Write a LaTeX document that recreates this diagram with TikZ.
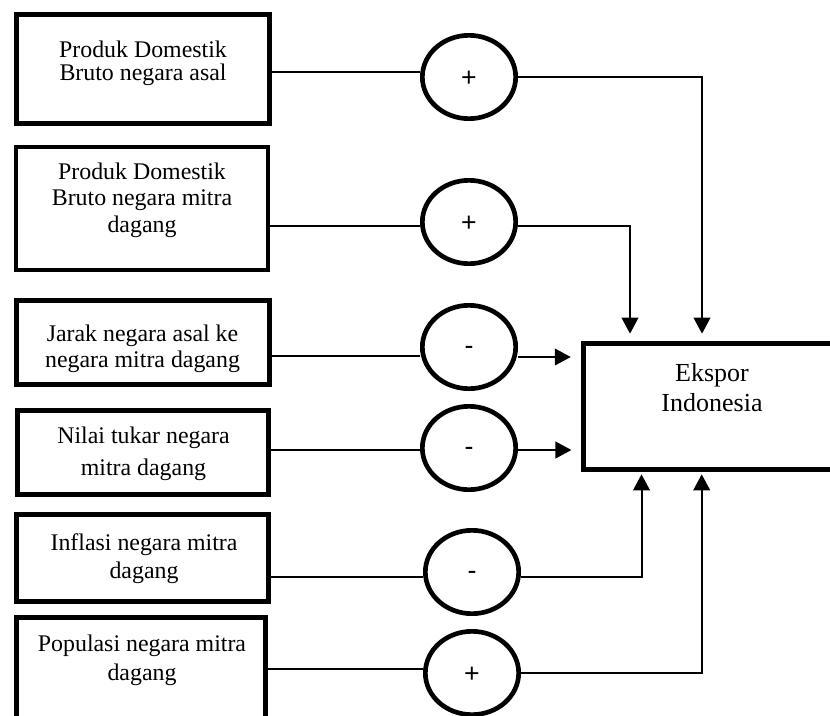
\documentclass[tikz,border=0pt]{standalone}
\usepackage{fontspec}
\setmainfont{Liberation Serif}
\newfontfamily\signfont{Liberation Sans}
\usetikzlibrary{arrows.meta,shapes.geometric}

\tikzset{every picture/.style={line width=0.75pt}}
\tikzset{
  varbox/.style={draw, line width=3.5pt, inner sep=0pt},
  signnode/.style={draw, ellipse, line width=3.5pt, inner sep=0pt, minimum width=70pt, minimum height=62.5pt, text depth=0pt, font=\signfont\fontsize{20pt}{24pt}\selectfont},
  plussign/.style={signnode, text height=14.2pt},
  minussign/.style={signnode, text height=10.8pt},
  vartext/.style={inner sep=0pt, align=center, font=\fontsize{17.9pt}{#1}\selectfont},
  vartext/.default=20pt,
  link/.style={line width=1.5pt},
  arrowlink/.style={-{Triangle[length=12pt,width=12.5pt]}},
}

\begin{document}
\begin{tikzpicture}[x=0.75pt,y=0.75pt,yscale=-1,xscale=1]
\useasboundingbox (0,0) rectangle (830,715);

%Shape: Rectangle [gdpAsal]
\node [varbox, minimum width=190pt, minimum height=82pt] (gdpAsal) at (143,69) {};
%Shape: Rectangle [gdpMitra]
\node [varbox, line width=3pt, minimum width=189pt, minimum height=92.25pt] (gdpMitra) at (142,208.5) {};
%Shape: Rectangle [jarak]
\node [varbox, minimum width=190pt, minimum height=63.25pt] (jarak) at (143,342.5) {};
%Shape: Rectangle [nilai]
\node [varbox, minimum width=188.5pt, minimum height=63.25pt] (nilai) at (143,452.5) {};
%Shape: Rectangle [inflasi]
\node [varbox, minimum width=189.2pt, minimum height=65.5pt] (inflasi) at (142.5,558) {};
%Shape: Rectangle [populasi]
\node [varbox, minimum width=187pt, minimum height=90pt] (populasi) at (141,677.3) {};
%Shape: Rectangle [ekspor]
\node [varbox, line width=3.75pt, minimum width=200pt, minimum height=94.5pt] (ekspor) at (716.6,406.2) {};

%Shape: Ellipse
\node [plussign] (plusA) at (469,77) {+};
%Shape: Ellipse
\node [plussign] (plusB) at (469,222) {+};
%Shape: Ellipse
\node [minussign] (minA) at (469,347) {-};
%Shape: Ellipse
\node [minussign] (minB) at (469,448) {-};
%Shape: Ellipse
\node [minussign] (minC) at (472,572) {-};
%Shape: Ellipse
\node [plussign] (plusC) at (472,673) {+};

%Straight Lines
\draw [link] (gdpAsal.east |- 0,72) -- (plusA.west |- 0,72) ;
\draw [link, arrowlink, shorten >=5.3pt] (plusA.east) -| (ekspor.north -| 702,0) ;
%Straight Lines
\draw [link] (gdpMitra.east |- 0,226) -- (plusB.west |- 0,226) ;
\draw [link, arrowlink, shorten >=5.3pt] (plusB.east |- 0,226) -| (ekspor.north -| 630,0) ;
%Straight Lines
\draw [link] (jarak.east |- 0,356) -- (minA.west |- 0,356) ;
\draw [link, arrowlink, shorten >=7.5pt] (minA.east |- 0,357) -- (ekspor.west |- 0,357) ;
%Straight Lines
\draw [link] (nilai.east |- 0,450) -- (minB.west |- 0,450) ;
\draw [link, arrowlink, shorten >=7pt] (minB.east |- 0,450) -- (ekspor.west |- 0,450) ;
%Straight Lines
\draw [link] (inflasi.east |- 0,577) -- (minC.west |- 0,577) ;
\draw [link, arrowlink, shorten >=2pt] (minC.east |- 0,577) -| (ekspor.south -| 641.5,0) ;
%Straight Lines
\draw [link] (populasi.east |- 0,669) -- (plusC.west |- 0,669) ;
\draw [link, arrowlink, shorten >=2pt] (plusC.east |- 0,673) -| (ekspor.south -| 701.7,0) ;

% Text Node
\node [vartext=17pt] (gdpAsalText) at (143,63.1) {Produk Domestik\\Bruto negara asal};
% Text Node
\node [vartext=19.8pt] (gdpMitraText) at (142,200) {Produk Domestik\\Bruto negara mitra\\dagang};
% Text Node
\node [vartext=19.2pt] (jarakText) at (142.5,349) {Jarak negara asal ke\\negara mitra dagang};
% Text Node
\node [vartext=23.8pt] (nilaiText) at (143.5,453.6) {Nilai tukar negara\\mitra dagang};
% Text Node
\node [vartext=21.2pt] (inflasiText) at (144,558.6) {Inflasi negara mitra\\dagang};
% Text Node
\node [vartext=21.2pt] (populasiText) at (142,660.3) {Populasi negara mitra\\dagang};
% Text Node
\node [inner sep=0pt, align=center, font=\fontsize{19.5pt}{23pt}\selectfont] (eksporText) at (712,387.5) {Ekspor\\Indonesia};

\end{tikzpicture}
\end{document}
